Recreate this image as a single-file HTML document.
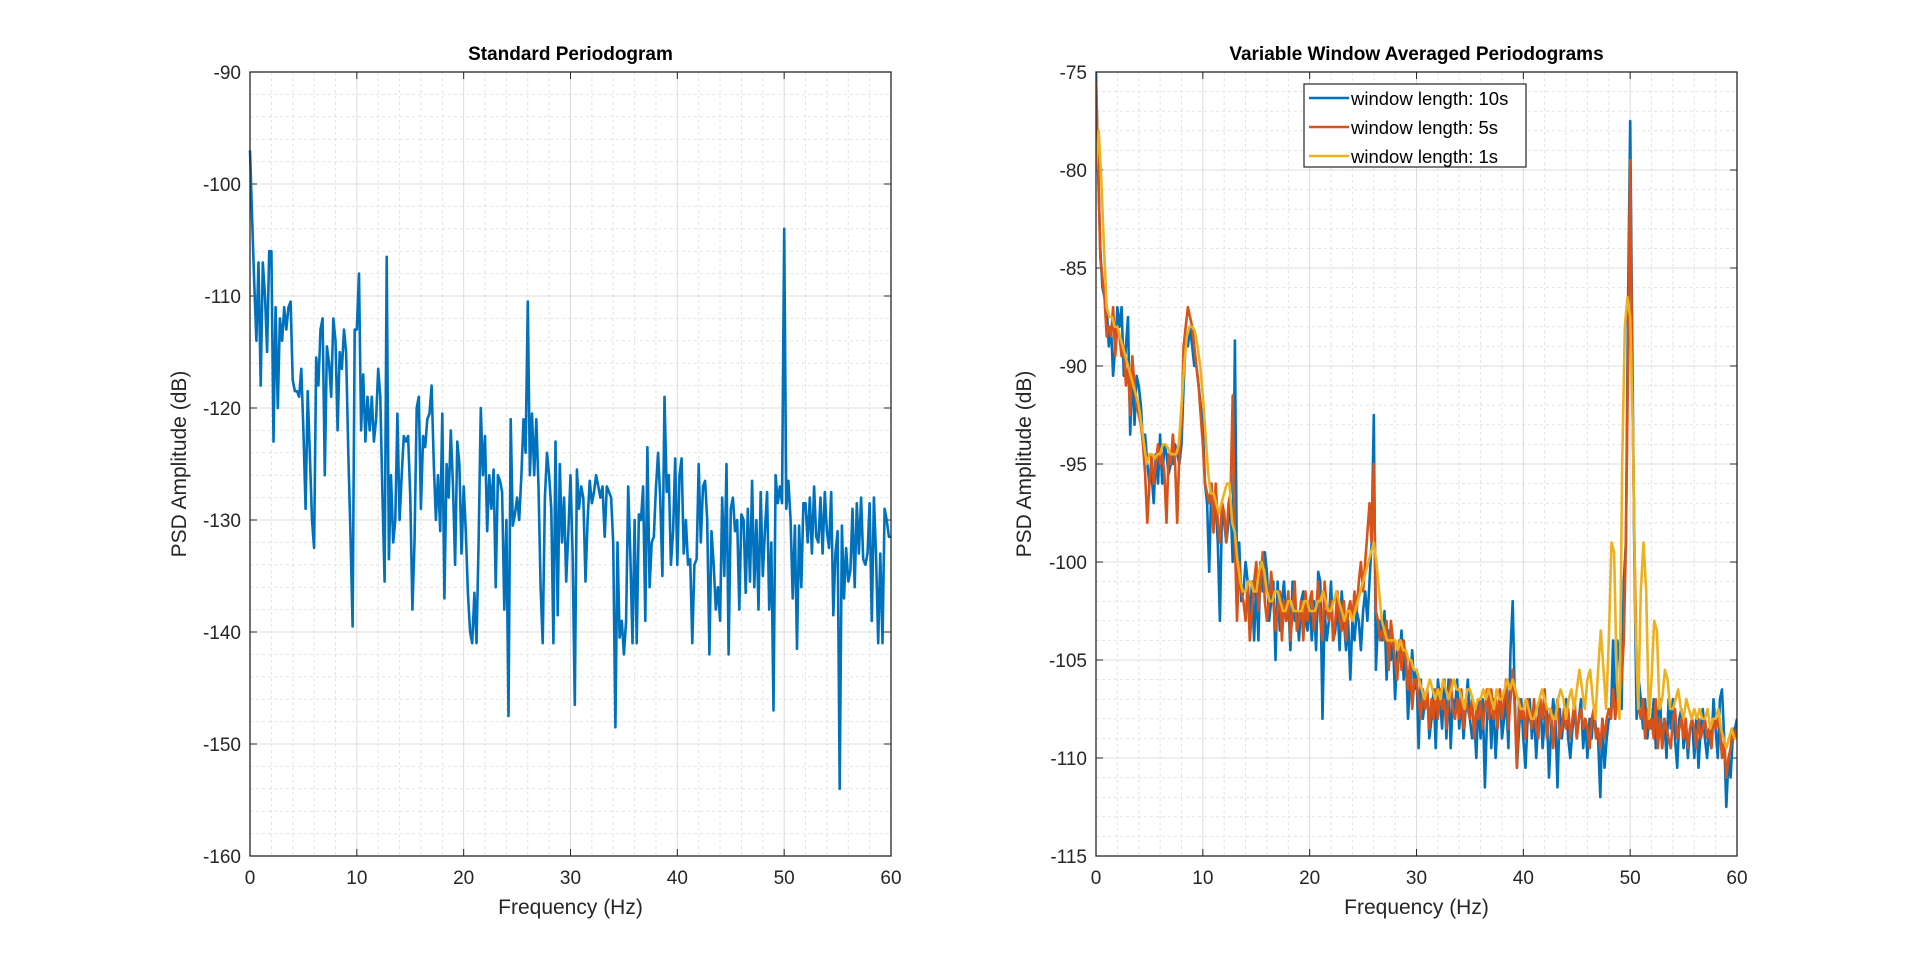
<!DOCTYPE html>
<html><head><meta charset="utf-8">
<style>
html,body{margin:0;padding:0;background:#fff;}
svg{display:block;font-family:"Liberation Sans",sans-serif;}
</style></head>
<body>
<svg id="fig" width="1920" height="963" viewBox="0 0 1920 963" xmlns="http://www.w3.org/2000/svg">
<rect width="1920" height="963" fill="#fff"/>
<g id="ax1"></g>
<g id="ax2"></g>
</svg>
<script>
const freqStepLeft = 0.2;
const leftPSD = [
-97,-103,-109,-114,-107, -118,-107,-110,-115,-106, -106,-123,-111,-120,-112, -114,-111,-113,-111,-110.5,
-117.5,-118.5,-118.5,-119,-116.5, -122,-129,-118.5,-124,-130, -132.5,-115.5,-118,-113,-112, -126,-114.5,-116,-119,-112,
-114,-122,-115,-116.5,-113, -115,-124,-131,-139.5,-113,
-113,-108,-122,-117,-123, -119,-122,-119,-123,-121, -116.5,-119,-128,-135.5,-106.5, -133.5,-126,-132,-130,-120.5,
-130,-126,-122.5,-123,-122.5, -128,-138,-132,-120,-119, -129,-122.5,-123.5,-121,-120.5, -118,-125,-130,-126,-131,
-120.5,-137,-125,-128,-122, -127,-134,-123,-125,-133,
-127,-131,-136.5,-140,-141, -136.5,-141,-132,-120,-126, -122.5,-131,-126,-129,-125.5, -136,-126,-126.5,-127.5,-138,
-130,-147.5,-121,-130.5,-129.5, -128,-130,-126,-121,-124, -110.5,-126,-120.5,-126,-121, -127,-136,-141,-128,-124,
-126,-129,-141,-123,-138.5, -125,-132,-128,-135.5,-131,
-126,-133,-146.5,-125.5,-129, -127,-128,-135.5,-130,-126.5, -128.5,-127.5,-126,-127,-128, -127,-131.5,-127,-127.5,-128,
-132,-148.5,-132,-140.5,-139, -142,-139,-127,-133,-141, -130,-141,-129.5,-130,-127, -139,-123.5,-136,-132,-131.5,
-127,-124,-128,-135,-119, -127.5,-126,-134,-131,-124.5,
-134,-126,-124.5,-133,-130, -134,-133.5,-141,-134,-133.5, -125,-132,-127,-126.5,-130, -142,-131,-134,-138,-136,
-139,-128,-135,-125,-142, -129,-128,-131,-130,-138, -129.5,-130,-136.5,-129,-135.5, -126.5,-136,-130,-138,-127.5,
-135,-131,-127.5,-138,-132, -147,-126,-128.5,-127,-128.5,
-104,-129,-126.5,-130,-137, -130.5,-141.5,-130.5,-136,-128.5, -128.5,-132,-128,-133,-127, -131.5,-132,-128,-133,-127.5,
-131,-132.5,-127.5,-138.5,-133, -131,-154,-130.5,-137,-132.5, -135.5,-134.5,-129,-136,-128.5, -133,-128,-133.5,-134,-133,
-128.5,-139,-128,-133,-141, -133,-141,-129,-130,-131.5, -131.5
];
const freqStepRight = 0.2;
const blue10s = [
-75,-80,-84,-86,-86.5, -87,-89,-88,-90.5,-89, -87,-88,-87,-90.5,-89, -87.5,-93.5,-90,-93,-90.5,
-91,-92,-94,-93.5,-95, -96,-95.5,-97,-94.5,-96, -93.5,-96,-94,-94.5,-95.5, -95,-95,-94,-94.5,-95,
-94,-91,-88.5,-89,-88, -89,-90,-90,-91,-92,
-93,-96,-97,-100.5,-96, -98,-97,-99,-103,-97, -98,-99,-98,-97,-100, -88.7,-101,-99,-102,-101.5,
-100,-101,-103,-101,-104, -101,-104,-100,-101.5,-99.5, -100.5,-103,-102,-101,-105, -101,-103.5,-102,-101,-103,
-102,-104.5,-101,-103,-102.5, -104,-102,-101.5,-103,-103.5,
-102,-104,-102,-104.5,-100.5, -101,-108,-102.5,-104,-103, -101,-104,-103.5,-102,-104.5, -101.5,-103,-104.5,-103,-106,
-103,-104,-102.5,-103,-104.5, -102.5,-101.5,-103,-101,-99, -92.5,-105.5,-103,-103,-104, -102.5,-106,-103.5,-105,-104,
-107,-104.5,-105,-103.5,-106, -104.5,-108,-106,-104.5,-106.5,
-105.5,-109.5,-106,-108,-107, -106.5,-109,-108,-106.5,-109.5, -106,-107,-108.5,-106,-109, -106,-109.5,-107,-107.5,-106,
-108.5,-107,-109,-107.5,-106, -108,-109,-108,-110,-107, -109,-107,-111.5,-108,-106.5, -109.5,-107,-110,-108,-106.5,
-109,-108,-107,-109.5,-104.5, -102,-107,-110.5,-108.5,-107,
-109,-110.5,-108,-107,-109, -107.5,-110,-108,-107,-109.5, -108,-107.5,-111,-108.5,-107, -108,-111.5,-107.5,-109,-108,
-107,-109,-110,-108.5,-107.5, -109,-108,-107,-109.5,-108, -110,-108,-109,-107.5,-108.5, -109,-112,-108,-110.5,-109,
-108,-108,-104,-108,-104, -105,-107.5,-101,-99,-87,
-77.5,-89,-100,-108,-106, -107,-108.5,-107,-109,-108, -108.5,-107,-109.5,-108,-107, -109.5,-108,-110,-107,-108.5,
-107,-109,-110.5,-108,-107.5, -109.5,-108,-110,-108.5,-108, -110,-108,-110.5,-108.5,-107.5, -109,-110,-108.5,-109.5,-107,
-108.5,-110,-107,-106.5,-109, -112.5,-110,-111,-109,-108.5, -108
];
const red5s = [
-75.5,-79.5,-84.5,-85.5,-86.5, -88.5,-88,-88.5,-87,-89.5, -88,-88.5,-89.5,-89,-91, -90,-92.5,-89.5,-91,-92,
-92.5,-93,-94,-95.5,-98, -96,-94.5,-96,-95,-94, -95,-94.5,-95.5,-98,-94.5, -95,-93.5,-95,-98,-94.5,
-93,-89,-88,-87,-87.5, -88,-89,-90,-91,-92.5,
-94,-96,-96.5,-97,-96, -98.5,-96,-98,-99,-97, -97.5,-99,-97,-96.5,-91.5, -99,-103,-100,-101.5,-102,
-103,-101,-104,-102.5,-101, -100,-102.5,-101,-99.5,-102, -103,-102,-100.5,-102,-103.5, -102.5,-101.5,-104,-102,-103,
-101.5,-104,-102.5,-101,-103.5, -103,-102,-104,-101.5,-103,
-102,-101.5,-103.5,-102.5,-101, -103,-104,-101,-102.5,-103, -102,-104,-103,-101.5,-103, -103.5,-102,-104,-102.5,-102,
-103,-101.5,-102.5,-101,-100, -101.5,-100,-98.5,-97,-99, -95,-102.5,-103,-104,-103.5, -104,-103,-105.5,-103,-104,
-105,-106,-104,-105.5,-104, -105,-106.5,-105,-107.5,-106,
-106,-107,-108,-106.5,-107.5, -106.5,-108.5,-107,-108,-106.5, -108,-106.5,-107.5,-107,-108.5, -107,-106,-107.5,-108,-107,
-108,-106.5,-108.5,-107,-107.5, -108,-107,-109,-107.5,-108, -107,-108.5,-107.5,-106.5,-108, -106.5,-108,-107,-108.5,-106.5,
-108,-107,-106,-108.5,-107, -105.5,-107.5,-110.5,-107,-108,
-107.5,-109,-107,-108,-108.5, -107,-108.5,-109,-107,-108, -106.5,-109,-108,-107.5,-109.5, -108,-107,-109,-108.5,-107.5,
-108.5,-107.5,-109,-108,-107, -109,-108,-107.5,-108.5,-108, -108.5,-109.5,-108,-107.5,-109, -108.5,-109.5,-108,-109,-108,
-107.5,-108,-106.5,-108,-107, -107,-106,-104,-99,-90,
-79.5,-91,-99,-105,-107.5, -108,-107,-109,-107.5,-108.5, -108,-109,-107,-109.5,-108, -109.5,-108,-108.5,-109,-109.5,
-108,-107.5,-109,-108.5,-108, -109,-108,-109.5,-108.5,-108, -108.5,-109.5,-108,-109,-108.5, -108,-109,-108.5,-109.5,-108,
-108.5,-108,-108.5,-110,-109, -111,-110,-109.5,-108.5,-109, -108.5
];
const freqStepYellow = 0.25;
const yellow1s = [
-80,-78,-80.5,-84, -87,-87.5,-87.5,-88, -88,-88.5,-89,-89.5, -90,-90.5,-91,-91.5, -92,-93,-94,-95,
-94.5,-94.5,-94.7,-94.5, -94.5,-94,-94,-94.2, -94.5,-94.5,-94.5,-94, -92,-90,-88.5,-88, -88,-88.2,-89,-90,
-91.5,-93.5,-95.5,-96.5, -96.5,-97,-97.5,-97, -96.5,-96,-96,-98, -98.5,-100,-101,-101.5, -101.5,-101,-101,-101.5,
-101.5,-100.5,-100,-100.5, -101.5,-102,-102,-101.5, -101.5,-102,-102.5,-102.5, -102,-102,-102.5,-102.5, -102.5,-102.5,-102,-102,
-102.5,-102.5,-102.5,-102, -102,-101.5,-102,-102.5, -102.5,-102,-101.5,-102, -102.5,-103,-102.5,-102.5, -103,-102.5,-102,-101.5,
-101,-100.5,-100,-99.5, -99,-100,-101.5,-103, -103.5,-104,-104,-104, -104,-104.5,-104,-104.5, -104.5,-105,-105,-105.5,
-105.5,-106,-106.5,-107, -106.5,-106,-106.5,-107, -106.5,-107,-106,-106.5, -107,-106.5,-106,-106.5, -106.5,-107,-107.5,-106.5,
-106.5,-107,-107.5,-107, -107,-106.5,-107,-106.5, -107,-107.5,-106.5,-107, -107,-106.5,-106,-106.5, -106,-106.5,-107,-107.5,
-107.5,-107,-107.5,-108, -108,-107.5,-107,-106.5, -107,-107.5,-107.5,-108, -108,-107,-106.5,-107, -108,-107,-106.5,-107.5,
-106.5,-105.5,-106.5,-107.5, -106,-105.5,-107,-108, -105.5,-103.5,-105.5,-107.5, -104,-99,-99.5,-106, -108,-95,-88,-86.5,
-87.5,-93,-103,-107.5, -101.5,-99,-101.5,-108, -106,-103,-103.5,-107.5, -107,-105.5,-106,-107.5, -107.5,-107,-106.5,-107.5,
-108,-107,-107.5,-108, -107.5,-108,-107.5,-108, -108,-107.5,-108.5,-108, -108,-107.5,-108.5,-109, -109.5,-109,-108.5,-109,
-109
];
const xTicks = [0,10,20,30,40,50,60];
const yTicksLeft = [-160,-150,-140,-130,-120,-110,-100,-90];
const yTicksRight = [-115,-110,-105,-100,-95,-90,-85,-80,-75];
const seriesNames = ['window length: 10s','window length: 5s','window length: 1s'];
const seriesColors = ['#0072BD','#D95319','#EDB120'];

const NS='http://www.w3.org/2000/svg';
function mk(tag, attrs, parent){const e=document.createElementNS(NS,tag);for(const k in attrs)e.setAttribute(k,attrs[k]);parent.appendChild(e);return e;}

function drawAxes(g, box, xmin, xmax, ymin, ymax, yTicks, yMinorStep, title){
  const sx=v=>box.x+(v-xmin)/(xmax-xmin)*box.w;
  const sy=v=>box.y+box.h-(v-ymin)/(ymax-ymin)*box.h;
  for(let v=xmin;v<=xmax+1e-9;v+=2){ if(v%10===0) continue;
    const l=mk('line',{x1:sx(v),x2:sx(v),y1:box.y,y2:box.y+box.h,stroke:'#e3e3e3','stroke-width':1,'stroke-dasharray':'3,3'},g);
    
    
  }
  for(let v=ymin;v<=ymax+1e-9;v+=yMinorStep){ if(yTicks.some(t=>Math.abs(t-v)<1e-6)) continue;
    const l=mk('line',{x1:box.x,x2:box.x+box.w,y1:sy(v),y2:sy(v),stroke:'#e3e3e3','stroke-width':1,'stroke-dasharray':'3,3'},g);
    
    
  }
  xTicks.forEach(t=>{
    const l=mk('line',{x1:sx(t),x2:sx(t),y1:box.y,y2:box.y+box.h,stroke:'#dcdcdc','stroke-width':1},g);
    
    
    mk('line',{x1:sx(t),x2:sx(t),y1:box.y+box.h,y2:box.y+box.h-7,stroke:'#262626','stroke-width':1},g);
    mk('line',{x1:sx(t),x2:sx(t),y1:box.y,y2:box.y+7,stroke:'#262626','stroke-width':1},g);
    const tx=mk('text',{x:sx(t),y:box.y+box.h+28,'text-anchor':'middle','font-size':19,fill:'#262626'},g);
    tx.textContent=t;
    
    
  });
  yTicks.forEach(t=>{
    const l=mk('line',{x1:box.x,x2:box.x+box.w,y1:sy(t),y2:sy(t),stroke:'#dcdcdc','stroke-width':1},g);
    
    
    mk('line',{x1:box.x,x2:box.x+7,y1:sy(t),y2:sy(t),stroke:'#262626','stroke-width':1},g);
    mk('line',{x1:box.x+box.w,x2:box.x+box.w-7,y1:sy(t),y2:sy(t),stroke:'#262626','stroke-width':1},g);
    const tx=mk('text',{x:box.x-9,y:sy(t)+7,'text-anchor':'end','font-size':19,fill:'#262626'},g);
    tx.textContent=t;
    
    
  });
  const tt=mk('text',{x:box.x+box.w/2,y:box.y-12,'text-anchor':'middle','font-size':19,'font-weight':'bold',fill:'#000'},g);
  tt.textContent=title;
  
  
  const xl=mk('text',{x:box.x+box.w/2,y:box.y+box.h+58,'text-anchor':'middle','font-size':21,fill:'#262626'},g);
  xl.textContent='Frequency (Hz)';
  
  
  const cx=box.x-(box===B1?64:65), cy=box.y+box.h/2;
  const yl=mk('text',{x:cx,y:cy,'text-anchor':'middle','font-size':21,fill:'#262626',transform:`rotate(-90 ${cx} ${cy})`},g);
  yl.textContent='PSD Amplitude (dB)';
  
  
  return {sx,sy};
}
function drawLine(g, sc, step, vals, color, name){
  const pts=vals.map((v,i)=>sc.sx(i*step).toFixed(1)+','+sc.sy(v).toFixed(1)).join(' ');
  const p=mk('polyline',{points:pts,fill:'none',stroke:color,'stroke-width':2.6,'stroke-linejoin':'round'},g);
  
  
}
function drawBox(g,box){
  const r=mk('rect',{x:box.x,y:box.y,width:box.w,height:box.h,fill:'none',stroke:'#262626','stroke-width':1.3},g);
  
  
}
const B1={x:250,y:72,w:641,h:784};
const B2={x:1096,y:72,w:641,h:784};
const g1=document.getElementById('ax1'), g2=document.getElementById('ax2');
const clip=mk('clipPath',{id:'c2'},document.getElementById('fig'));
mk('rect',{x:B2.x,y:B2.y,width:B2.w,height:B2.h},clip);
const s1=drawAxes(g1,B1,0,60,-160,-90,yTicksLeft,2,'Standard Periodogram');
drawLine(g1,s1,freqStepLeft,leftPSD,'#0072BD','psd-line');
drawBox(g1,B1);
const s2=drawAxes(g2,B2,0,60,-115,-75,yTicksRight,1,'Variable Window Averaged Periodograms');
const lg=mk('g',{'clip-path':'url(#c2)'},g2);
drawLine(lg,s2,freqStepRight,blue10s,seriesColors[0],'series-10s');
drawLine(lg,s2,freqStepRight,red5s,seriesColors[1],'series-5s');
drawLine(lg,s2,freqStepYellow,yellow1s,seriesColors[2],'series-1s');
drawBox(g2,B2);
const leg=mk('g',{},g2);


mk('rect',{x:1304,y:84,width:222,height:83,fill:'#fff',stroke:'#262626','stroke-width':1.2},leg);
seriesNames.forEach((n,i)=>{
  const y=84+14+i*29;
  const e=mk('g',{},leg);
  
  
  mk('line',{x1:1309,x2:1349,y1:y,y2:y,stroke:seriesColors[i],'stroke-width':2.6},e);
  const t=mk('text',{x:1351,y:y+7,'font-size':18.5,fill:'#000'},e);
  t.textContent=n;
});
</script>
</body></html>
